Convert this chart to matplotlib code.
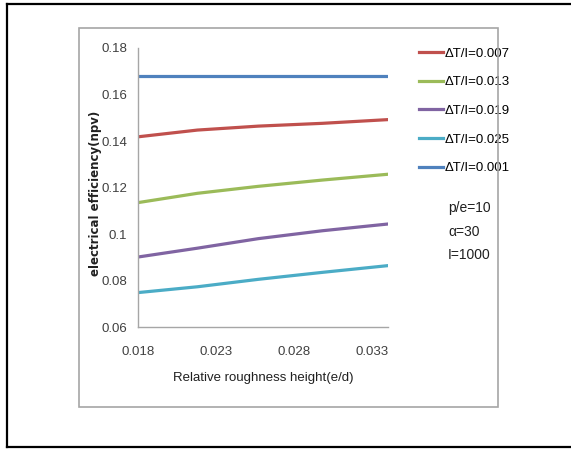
import matplotlib.pyplot as plt
from matplotlib.lines import Line2D
from matplotlib.patches import Rectangle

# Data
roughness = [0.018, 0.0218, 0.0257, 0.0298, 0.034]
eff_007 = [0.1418, 0.1447, 0.1464, 0.1476, 0.1492]
eff_013 = [0.1135, 0.1175, 0.1205, 0.1232, 0.1257]
eff_019 = [0.0901, 0.0939, 0.0980, 0.1014, 0.1043]
eff_025 = [0.0748, 0.0773, 0.0805, 0.0835, 0.0864]
eff_001 = [0.168, 0.168, 0.168, 0.168, 0.168]
labels = ['ΔT/I=0.007', 'ΔT/I=0.013', 'ΔT/I=0.019', 'ΔT/I=0.025', 'ΔT/I=0.001']
colors = ['#C0504D', '#9BBB59', '#8064A2', '#4BACC6', '#4F81BD']
xticks = [0.018, 0.023, 0.028, 0.033]
yticks = [0.06, 0.08, 0.10, 0.12, 0.14, 0.16, 0.18]
ytick_labels = ['0.06', '0.08', '0.1', '0.12', '0.14', '0.16', '0.18']

W, H = 571, 449
fig = plt.figure(figsize=(W / 100, H / 100), dpi=100)
font = ['Liberation Sans', 'DejaVu Sans']

# outer black frame (open on the right) and inner gray chart box
x0, y0, y1 = 7 / W, 1 - 447 / H, 1 - 4 / H
for xs, ys in [([x0, 1.0], [y1, y1]), ([x0, x0], [y0, y1]), ([x0, 1.0], [y0, y0])]:
    fig.add_artist(Line2D(xs, ys, transform=fig.transFigure, color='black', linewidth=1.6))
fig.add_artist(Rectangle((79 / W, 1 - 407 / H), (498 - 79) / W, (407 - 28) / H,
                         transform=fig.transFigure, fill=False,
                         edgecolor='#A6A6A6', linewidth=1.2))

ax = fig.add_axes([138 / W, 1 - 327 / H, 250 / W, 279 / H])
for series, lab, col in zip([eff_007, eff_013, eff_019, eff_025, eff_001], labels, colors):
    ax.plot(roughness, series, color=col, linewidth=2.3, label=lab)

ax.set_xlim(0.018, 0.034)
ax.set_ylim(0.06, 0.18)
ax.set_xticks(xticks)
ax.set_xticklabels(['%.3f' % v for v in xticks], fontfamily=font, fontsize=9.5)
ax.set_yticks(yticks)
ax.set_yticklabels(ytick_labels, fontfamily=font, fontsize=9.5)
ax.tick_params(length=0, colors='#404040')
ax.tick_params(axis='x', pad=14)
ax.tick_params(axis='y', pad=8)
for s in ['top', 'right']:
    ax.spines[s].set_visible(False)
for s in ['left', 'bottom']:
    ax.spines[s].set_color('#A6A6A6')
    ax.spines[s].set_linewidth(1.0)

ax.set_xlabel('Relative roughness height(e/d)', fontfamily=font, fontsize=9.5,
              color='#202020')
ax.xaxis.set_label_coords(0.5, -0.16)
ax.set_ylabel('electrical efficiency(npv)', fontweight='bold', fontsize=8.5,
              color='#202020')
ax.yaxis.set_label_coords(-0.145, 0.48)

ax.legend(loc='upper left', bbox_to_anchor=(414 / W, 1 - 42 / H),
          bbox_transform=fig.transFigure, frameon=False,
          prop={'family': font, 'size': 9.5}, handlelength=1.8,
          handletextpad=0.15, labelspacing=1.25, borderaxespad=0)

for txt, yy in [('p/e=10', 208), ('α=30', 232), ('I=1000', 255)]:
    fig.text(448 / W, 1 - yy / H, txt, fontfamily=font, fontsize=10,
             color='#202020', va='center', ha='left')

fig.savefig('out.png', dpi=100)
